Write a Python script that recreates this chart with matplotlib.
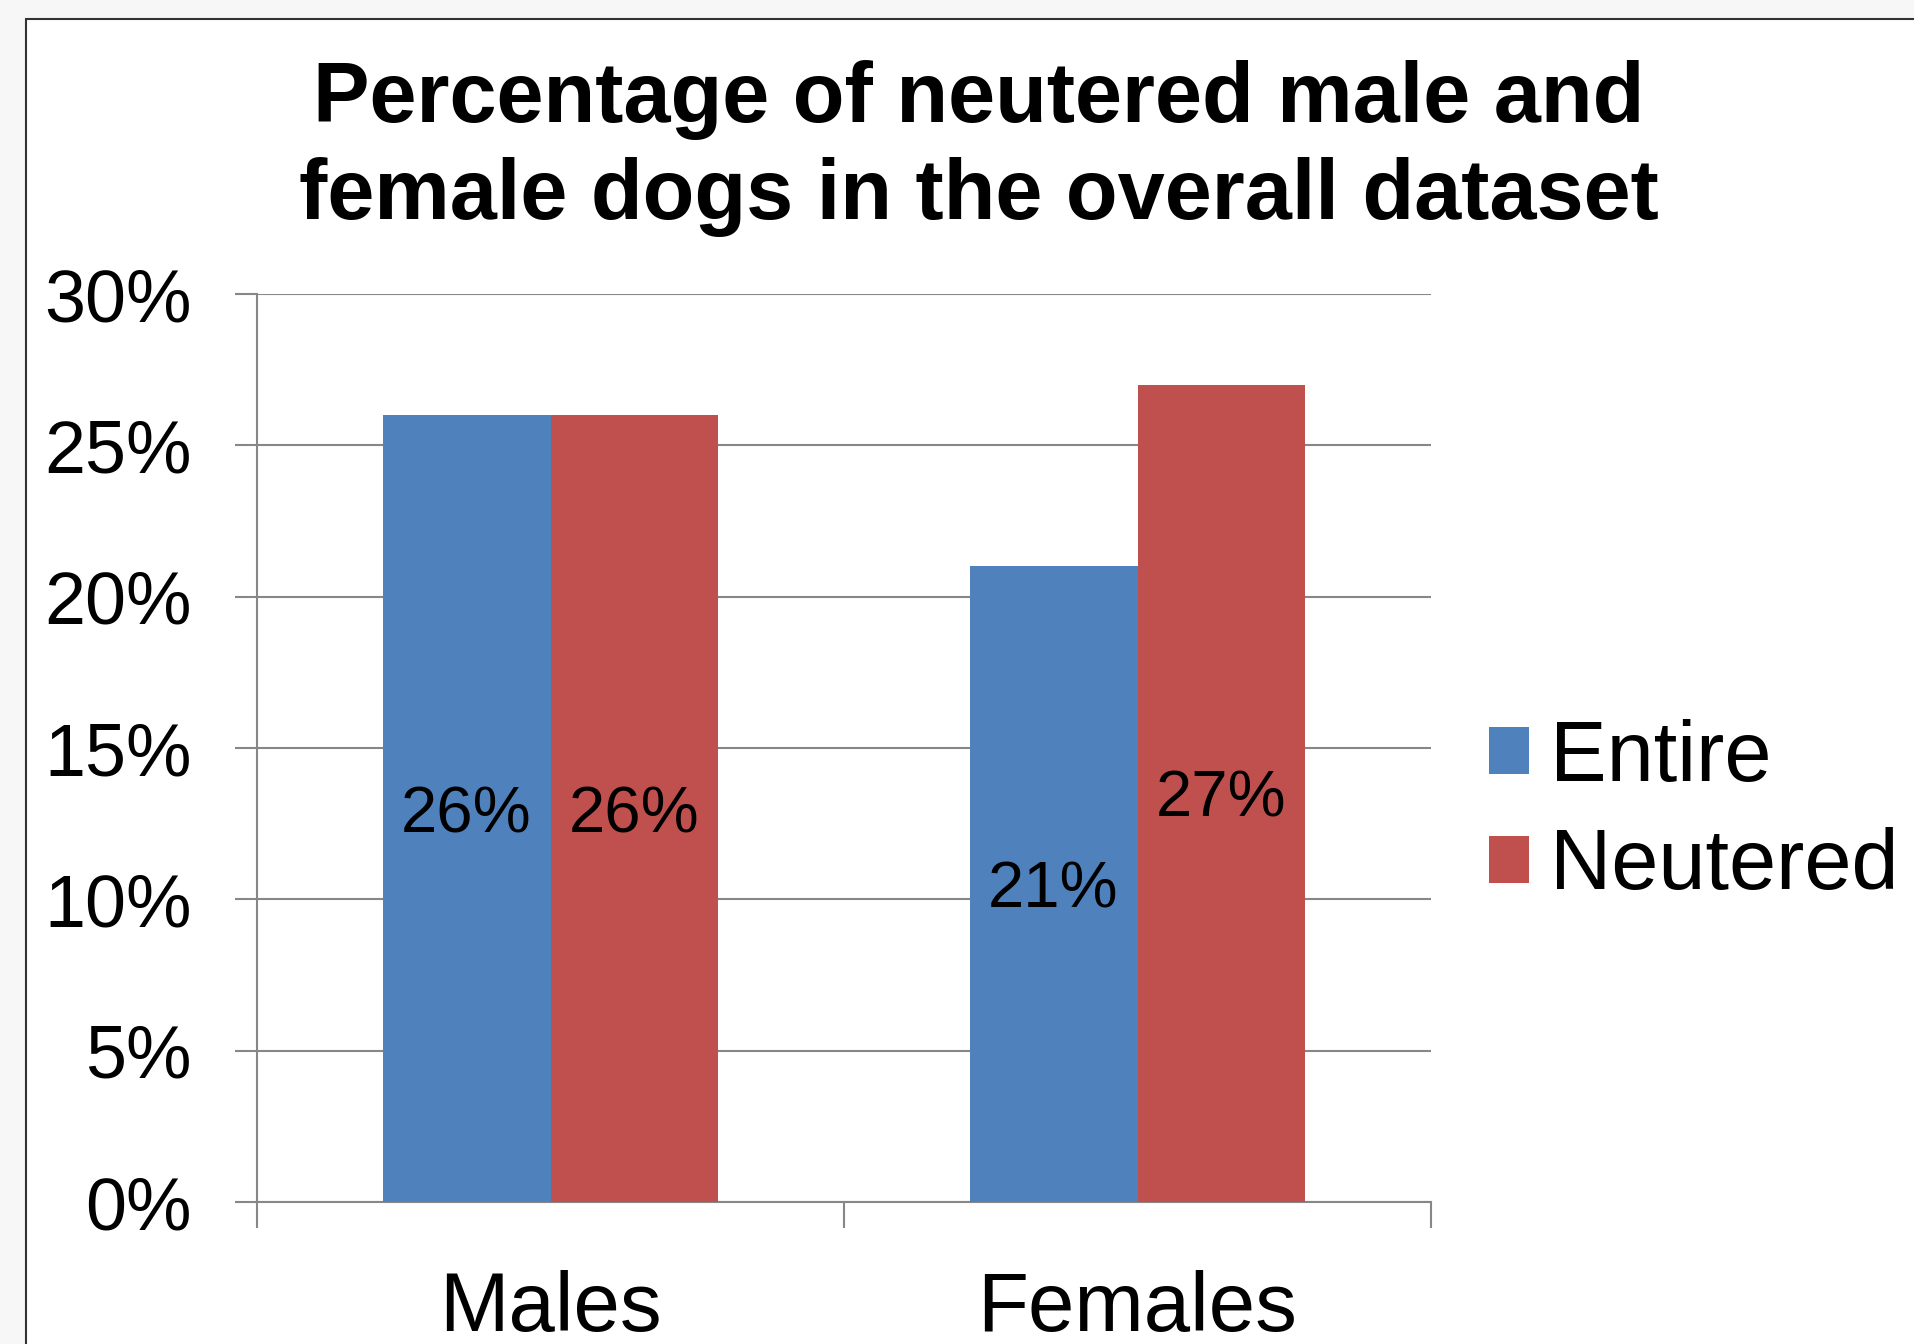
import matplotlib
matplotlib.use('Agg')
from matplotlib import pyplot as plt
from matplotlib.patches import Rectangle
import numpy as np

categories = ['Males', 'Females']
series_names = ['Entire', 'Neutered']
entire = [26, 21]
neutered = [26, 27]
y_ticks = [0, 5, 10, 15, 20, 25, 30]

blue = '#4f81bd'
red = '#c0504d'
grey = '#878787'

plt.rcParams['font.family'] = ['Liberation Sans', 'DejaVu Sans']

W, H = 1914, 1344
fig = plt.figure(figsize=(W / 100, H / 100), dpi=100, facecolor='#f7f7f7')

# white chart area with dark border (runs off right/bottom edge)
fig.add_artist(Rectangle((26 / W, -0.05), 1.1, 1 - 19 / H + 0.05, transform=fig.transFigure,
                         facecolor='white', edgecolor='#333333', linewidth=1.5, zorder=0))

ax = fig.add_axes([257 / W, 1 - 1202 / H, (1431 - 257) / W, (1202 - 294) / H])
ax.set_facecolor('none')

x = np.arange(len(categories))
w = 0.286
b1 = ax.bar(x - w / 2, entire, w, color=blue, label=series_names[0], zorder=3)
b2 = ax.bar(x + w / 2, neutered, w, color=red, label=series_names[1], zorder=3)

for bars, vals in [(b1, entire), (b2, neutered)]:
    for bar, v in zip(bars, vals):
        ax.text(bar.get_x() + bar.get_width() / 2, v / 2, f'{v}%', ha='center', va='center_baseline',
                fontsize=47, color='black', zorder=4)

ax.set_xlim(-0.5, 1.5)
ax.set_ylim(0, 30)
ax.set_yticks(y_ticks)
ax.set_yticklabels([f'{t}%' for t in y_ticks])
ax.yaxis.grid(True, color=grey, linewidth=1.5, zorder=0)
ax.tick_params(axis='y', length=16, width=1.5, color=grey, pad=31, labelsize=53)

ax.set_xticks(x)
ax.set_xticklabels(categories)
ax.set_xticks([-0.5, 0.5, 1.5], minor=True)
ax.tick_params(axis='x', which='major', length=0, pad=49, labelsize=60)
ax.tick_params(axis='x', which='minor', length=19, width=1.5, color=grey)

for s in ['top', 'right']:
    ax.spines[s].set_visible(False)
for s in ['left', 'bottom']:
    ax.spines[s].set_color(grey)
    ax.spines[s].set_linewidth(1.5)

fig.text(979 / W, 1 - 219 / H, 'Percentage of neutered male and\nfemale dogs in the overall dataset',
         ha='center', va='baseline', multialignment='center', fontsize=61, fontweight='bold',
         linespacing=1.27)

fig.legend(handles=[b1, b2], labels=series_names, loc='center left',
           bbox_to_anchor=(1489 / W, 1 - 813 / H), frameon=False, fontsize=61,
           handlelength=0.47, handleheight=0.47, handletextpad=0.25, labelspacing=0.34,
           borderpad=0, borderaxespad=0)

plt.savefig('out.png', dpi=100, facecolor=fig.get_facecolor())
